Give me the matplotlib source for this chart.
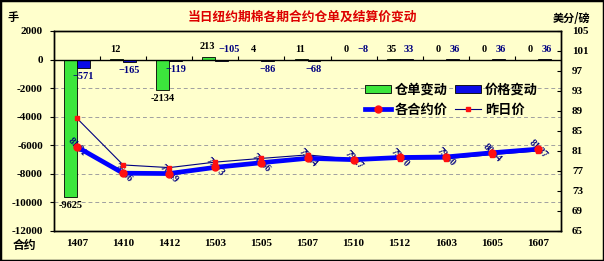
import matplotlib
matplotlib.use('Agg')
import matplotlib.pyplot as plt
from matplotlib.lines import Line2D
from matplotlib.patches import Patch, Rectangle
import numpy as np

contracts = ['1407', '1410', '1412', '1503', '1505', '1507', '1510', '1512', '1603', '1605', '1607']
warrant_change = [-9625, 12, -2134, 213, 4, 11, 0, 35, 0, 0, 0]
price_change = [-571, -165, -119, -105, -86, -68, -8, 33, 36, 36, 36]
price = [81.81, 76.56, 76.49, 77.73, 78.66, 79.54, 79.27, 79.70, 79.80, 80.64, 81.37]
prev_price = [87.52, 78.21, 77.68, 78.78, 79.52, 80.22, 79.35, 79.37, 79.44, 80.28, 81.01]
left_ticks = [2000, 0, -2000, -4000, -6000, -8000, -10000, -12000]
right_ticks = [65, 69, 73, 77, 81, 85, 89, 93, 97, 101, 105]

CJK = ['Noto Sans CJK SC', 'DejaVu Sans']
NUM = ['Liberation Serif', 'DejaVu Serif']
BG = '#FFFFCC'

fig = plt.figure(figsize=(6.04, 2.61), dpi=100, facecolor=BG)
fig.patches.append(Rectangle((0, 0), 1, 1, transform=fig.transFigure, fill=False,
                             edgecolor='black', lw=2.5))

W, H = 604, 261
ax = fig.add_axes([54 / W, 30 / H, (561 - 54) / W, 200 / H])
ax.set_facecolor(BG)

x = np.arange(len(contracts))
w = 0.28
ax.bar(x - w / 2, warrant_change, w, color='#3CE63C', edgecolor='black', lw=0.6, zorder=3)
ax.bar(x + w / 2, price_change, w, color='#0A0AE6', edgecolor='black', lw=0.6, zorder=3)

ax.set_xlim(-0.5, len(contracts) - 0.5)
ax.set_ylim(-12000, 2000)
ax.set_yticks(left_ticks)
ax.set_yticklabels([str(v) for v in left_ticks], family=NUM, fontweight='bold', fontsize=8)
ax.tick_params(axis='y', direction='out', length=3, width=0.8, pad=5)
for g in left_ticks[2:-1]:
    ax.axhline(g, color='#A0A0A0', lw=0.7, ls=(0, (4, 3)), zorder=1)
ax.axhline(0, color='black', lw=1.0, zorder=4)
ax.vlines(np.arange(0.5, len(contracts) - 0.5, 1), 0, 280, color='black', lw=0.8, zorder=4)

ax.set_xticks(x)
ax.set_xticklabels(contracts, family=NUM, fontweight='bold', fontsize=8)
ax.tick_params(axis='x', length=0, pad=6)
for s in ax.spines.values():
    s.set_color('black')
    s.set_linewidth(1.0)

# bar value labels
for xi, v in zip(x, warrant_change):
    if v < 0:
        ax.annotate(str(v), (xi - w / 2, v), xytext=(0, -3), textcoords='offset points',
                    ha='center', va='top', family=NUM, fontweight='bold', fontsize=7.5,
                    color='black', zorder=6)
    else:
        ax.annotate(str(v), (xi - w / 2, max(v, 0)), xytext=(-1, 4), textcoords='offset points',
                    ha='center', va='bottom', family=NUM, fontweight='bold', fontsize=7.5,
                    color='black', zorder=6)
for xi, v in zip(x, price_change):
    if v < -50 and v != -105:
        ax.annotate(str(v).replace('-', '\u2212'), (xi + w / 2, v), xytext=(0, -3),
                    textcoords='offset points', ha='center', va='top', family=NUM,
                    fontweight='bold', fontsize=7.5, color='#000080', zorder=6)
    else:
        dx = 5 if v == -105 else 2
        ax.annotate(str(v).replace('-', '\u2212'), (xi + w / 2, max(v, 0)), xytext=(dx, 4),
                    textcoords='offset points', ha='center', va='bottom', family=NUM,
                    fontweight='bold', fontsize=7.5, color='#000080', zorder=6)

ax2 = ax.twinx()
ax2.set_ylim(65, 105)
ax2.set_yticks(right_ticks)
ax2.set_yticklabels([str(v) for v in right_ticks], family=NUM, fontweight='bold', fontsize=8)
ax2.tick_params(axis='y', direction='in', length=3, width=0.8, pad=8)
for s in ax2.spines.values():
    s.set_color('black')
    s.set_linewidth(1.0)

ax2.plot(x, prev_price, color='#000080', lw=0.8, marker='s', ms=2.8,
         mfc='#FF1010', mec='#FF1010', zorder=3)
ax2.plot(x, price, color='#0000FF', lw=3.4, marker='o', ms=5,
         mfc='#FF1010', mec='#FF1010', zorder=4)
for xi, p in zip(x, price):
    ax2.text(xi, p, f'{p:.2f}', rotation=-45, rotation_mode='anchor', ha='center',
             va='center', family=NUM, fontweight='bold', fontsize=7, color='#000080', zorder=2)

handles = [
    Patch(facecolor='#3CE63C', edgecolor='black', lw=0.6),
    Line2D([], [], color='#0000FF', lw=3.4, marker='o', ms=5, mfc='#FF1010', mec='#FF1010'),
    Patch(facecolor='#0A0AE6', edgecolor='black', lw=0.6),
    Line2D([], [], color='#000080', lw=0.8, marker='s', ms=2.8, mfc='#FF1010', mec='#FF1010'),
]
labels = ['仓单变动', '各合约价', '价格变动', '昨日价']
fig.legend(handles, labels, ncol=2, loc='upper left', bbox_to_anchor=(362 / W, 1 - 80 / H),
           frameon=False, prop={'family': CJK, 'weight': 'bold', 'size': 9.5},
           handlelength=2.0, handleheight=0.55, handletextpad=0.3, columnspacing=0.5,
           labelspacing=0.45, borderpad=0.2, borderaxespad=0)

fig.text(0.5, 1 - 17 / H, '当日纽约期棉各期合约仓单及结算价变动', ha='center', va='center',
         family=CJK, fontweight='bold', fontsize=9.2, color='#DD0000')
fig.text(13 / W, 1 - 18 / H, '手', ha='center', va='center', family=CJK,
         fontweight='bold', fontsize=8)
fig.text(572 / W, 1 - 18 / H, '美分/磅', ha='center', va='center', family=CJK,
         fontweight='bold', fontsize=8)
fig.text(24 / W, 1 - 245 / H, '合约', ha='center', va='center', family=CJK,
         fontweight='bold', fontsize=8.5)

fig.savefig('out.png', dpi=100, facecolor=BG)
